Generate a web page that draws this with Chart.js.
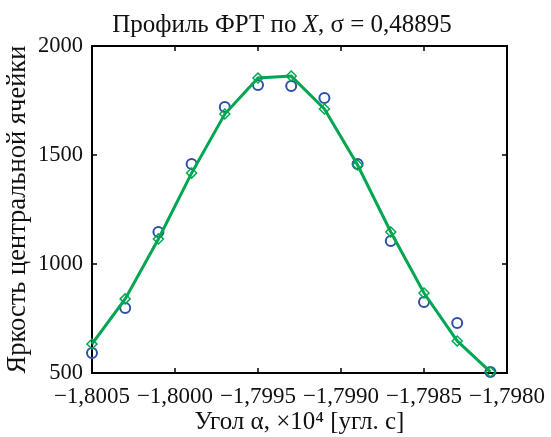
<!DOCTYPE html>
<html>
<head>
<meta charset="utf-8">
<script src="https://cdn.jsdelivr.net/npm/chart.js@4.4.1/dist/chart.umd.min.js"></script>
<style>
  body { margin: 0; background: #fff; }
  #wrap { width: 551px; height: 437px; }
</style>
</head>
<body>
<div id="wrap"><canvas id="psfChart" width="551" height="437"></canvas></div>
<script>
// angle, x10^4 arcsec
const angles = [-1.8005, -1.8003, -1.8001, -1.7999, -1.7997, -1.7995, -1.7993,
                -1.7991, -1.7989, -1.7987, -1.7985, -1.7983, -1.7981];
// measured brightness (circles)
const measured = [592, 798, 1147, 1459, 1720, 1821, 1817, 1761, 1459, 1106, 826, 729, 505];
// fitted profile (green line with diamonds)
const fitted = [633, 840, 1115, 1417, 1688, 1853, 1862, 1711, 1454, 1147, 867, 647, 505];

const xMin = -1.8005, xMax = -1.7980, xStep = 0.0005;
const yMin = 500, yMax = 2000, yStep = 500;

const titleParts = [
  { text: "Профиль ФРТ по ", italic: false },
  { text: "X", italic: true },
  { text: ", σ = 0,48895", italic: false },
];

Chart.defaults.font.family = "'Liberation Serif', 'DejaVu Serif', serif";
Chart.defaults.color = "#111";

const green = "#00a651";
const blue = "#2f4fa8";

// frame with inward ticks on all four sides
const framePlugin = {
  id: "frame",
  beforeDatasetsDraw(chart) {
    const { ctx, chartArea: a, scales } = chart;
    ctx.save();
    ctx.strokeStyle = "#000";
    ctx.lineWidth = 2;
    ctx.strokeRect(a.left, a.top, a.right - a.left, a.bottom - a.top);
    ctx.lineWidth = 1.5;
    ctx.beginPath();
    scales.x.ticks.forEach(t => {
      const px = scales.x.getPixelForValue(t.value);
      ctx.moveTo(px, a.bottom); ctx.lineTo(px, a.bottom - 5);
      ctx.moveTo(px, a.top); ctx.lineTo(px, a.top + 5);
    });
    scales.y.ticks.forEach(t => {
      const py = scales.y.getPixelForValue(t.value);
      ctx.moveTo(a.left, py); ctx.lineTo(a.left + 5, py);
      ctx.moveTo(a.right, py); ctx.lineTo(a.right - 5, py);
    });
    ctx.stroke();
    ctx.restore();
  },
};

// title with italic X
const titlePlugin = {
  id: "mixedTitle",
  afterDraw(chart) {
    const ctx = chart.ctx;
    const fam = Chart.defaults.font.family;
    ctx.save();
    ctx.fillStyle = "#111";
    ctx.textBaseline = "alphabetic";
    let total = 0;
    titleParts.forEach(p => {
      ctx.font = (p.italic ? "italic " : "") + "25px " + fam;
      p.w = ctx.measureText(p.text).width;
      total += p.w;
    });
    let x = 282 - total / 2;
    titleParts.forEach(p => {
      ctx.font = (p.italic ? "italic " : "") + "25px " + fam;
      ctx.fillText(p.text, x, 32);
      x += p.w;
    });
    ctx.restore();
  },
};

const fmtX = v => v.toFixed(4).replace(".", ",").replace("-", "\u2212");

new Chart(document.getElementById("psfChart"), {
  type: "scatter",
  data: {
    datasets: [
      {
        label: "fit",
        data: angles.map((a, i) => ({ x: a, y: fitted[i] })),
        showLine: true,
        borderColor: green,
        borderWidth: 3,
        pointStyle: "rectRot",
        pointRadius: 5,
        pointBorderWidth: 1.5,
        pointBorderColor: green,
        pointBackgroundColor: "rgba(255,255,255,0)",
        order: 1,
      },
      {
        label: "measured",
        data: angles.map((a, i) => ({ x: a, y: measured[i] })),
        showLine: false,
        pointStyle: "circle",
        pointRadius: 5,
        pointBorderWidth: 2,
        pointBorderColor: blue,
        pointBackgroundColor: "rgba(255,255,255,0)",
        order: 2,
      },
    ],
  },
  plugins: [framePlugin, titlePlugin],
  options: {
    responsive: false,
    animation: false,
    clip: false,
    layout: { padding: { top: 46, right: 44, left: 0, bottom: 0 } },
    plugins: { legend: { display: false }, tooltip: { enabled: false } },
    scales: {
      x: {
        type: "linear",
        min: xMin,
        max: xMax,
        grid: { display: false, drawTicks: false },
        border: { display: false },
        ticks: {
          stepSize: xStep,
          padding: 10,
          font: { size: 23 },
          color: "#111",
          maxRotation: 0,
          callback: v => fmtX(v),
        },
        title: {
          display: true,
          text: "Угол α, ×10⁴ [угл. с]",
          font: { size: 25 },
          color: "#111",
          padding: { top: 0, bottom: 0 },
        },
        afterFit(scale) {
          scale.height = 64;
          scale.paddingLeft = 0;
          scale.paddingRight = 0;
        },
      },
      y: {
        min: yMin,
        max: yMax,
        grid: { display: false, drawTicks: false },
        border: { display: false },
        ticks: {
          stepSize: yStep,
          padding: 9,
          font: { size: 22.5 },
          color: "#111",
          callback: v => String(v),
        },
        title: {
          display: true,
          text: "Яркость центральной ячейки",
          font: { size: 26.5 },
          color: "#111",
          padding: { top: 2, bottom: 2 },
        },
        afterFit(scale) { scale.width = 92; },
      },
    },
  },
});
</script>
</body>
</html>
